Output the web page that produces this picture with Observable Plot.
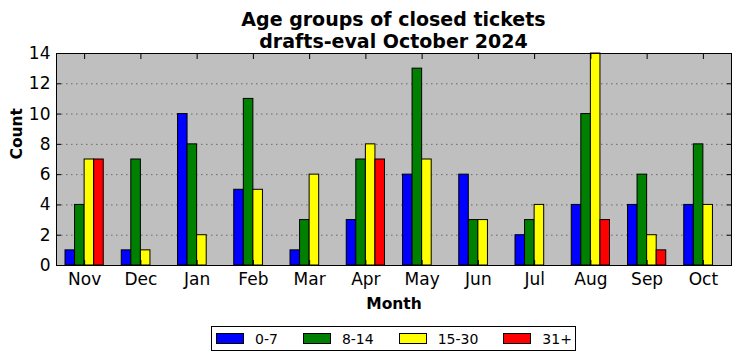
<!DOCTYPE html>
<html>
<head>
<meta charset="utf-8">
<script src="https://cdn.jsdelivr.net/npm/d3@7"></script>
<script src="https://cdn.jsdelivr.net/npm/@observablehq/plot@0.6"></script>
<style>
  body { margin: 0; background: #fff; }
  #wrap { position: relative; width: 740px; height: 361px; font-family: "DejaVu Sans", sans-serif; }
  #title { position: absolute; left: 56px; top: 8px; width: 675px; text-align: center; font-weight: bold; font-size: 19px; line-height: 22px; color: #000; }
  #legend { position: absolute; left: 211px; top: 326px; width: 363px; height: 23px; border: 1px solid #000; background: #fff; display: flex; align-items: center; font-size: 14px; white-space: nowrap; }
  .item { display: flex; align-items: center; flex-shrink: 0; margin-left: 4px; margin-right: 21px; }
  .item:last-child { margin-right: 0; }
  .sw { width: 26px; height: 9px; border: 1px solid #000; margin-right: 11px; flex-shrink: 0; }
  #chart svg { display: block; }
</style>
</head>
<body>
<div id="wrap">
  <div id="chart"></div>
  <div id="title">Age groups of closed tickets<br>drafts-eval October 2024</div>
  <div id="legend"></div>
</div>
<script>
const months = ["Nov","Dec","Jan","Feb","Mar","Apr","May","Jun","Jul","Aug","Sep","Oct"];
const series = ["0-7","8-14","15-30","31+"];
const colors = ["#0000ff","#008000","#ffff00","#ff0000"];
const v0_7   = [1,1,10,5,1,3,6,6,2,4,4,4];
const v8_14  = [4,7,8,11,3,7,13,3,3,10,6,8];
const v15_30 = [7,1,2,5,6,8,7,3,4,14,2,4];
const v31    = [7,0,0,0,0,7,0,0,0,3,1,0];
const yTicks = [0,2,4,6,8,10,12,14];

const seriesValues = [v0_7, v8_14, v15_30, v31];
const rows = [];
months.forEach((m, i) => {
  series.forEach((s, j) => {
    rows.push({month: m, i, series: s, j, value: seriesValues[j][i]});
  });
});

const barW = 0.17;
const monthIdx = d3.range(months.length);

const chart = Plot.plot({
  width: 740,
  height: 361,
  marginLeft: 56,
  marginRight: 9,
  marginTop: 53,
  marginBottom: 96,
  style: {fontFamily: "DejaVu Sans, sans-serif", fontSize: "17px", color: "#000", background: "transparent"},
  x: {type: "linear", domain: [-0.5, 11.5]},
  y: {domain: [0, 14]},
  color: {domain: series, range: colors},
  marks: [
    Plot.frame({fill: "#bfbfbf"}),
    Plot.gridY({ticks: [2,4,6,8,10,12], stroke: "#000", strokeOpacity: 0.45, strokeDasharray: "1.5,3.5"}),
    Plot.rectY(rows, {
      x1: d => d.i + (d.j - 2) * barW,
      x2: d => d.i + (d.j - 1) * barW,
      y1: 0,
      y2: "value",
      fill: "series",
      stroke: "#000",
      strokeWidth: 1
    }),
    Plot.frame({stroke: "#000", strokeWidth: 1}),
    // inward ticks
    Plot.axisX({anchor: "bottom", ticks: monthIdx, tickSize: -5, tickFormat: () => "", label: null}),
    Plot.axisX({anchor: "top", ticks: monthIdx, tickSize: -5, tickFormat: () => "", label: null}),
    Plot.axisY({anchor: "left", ticks: yTicks, tickSize: -5, tickFormat: () => "", label: null}),
    Plot.axisY({anchor: "right", ticks: yTicks, tickSize: -5, tickFormat: () => "", label: null}),
    // labels
    Plot.axisX({anchor: "bottom", ticks: monthIdx, tickSize: 0, tickPadding: 7, tickFormat: i => months[i], label: null, fontSize: 17}),
    Plot.axisY({anchor: "left", ticks: yTicks, tickSize: 0, tickPadding: 6, tickFormat: d => String(d), label: null, fontSize: 17}),
    Plot.text(["Month"], {frameAnchor: "bottom", dy: 43, text: d => d, fontWeight: "bold", fontSize: 15.5}),
    Plot.text(["Count"], {frameAnchor: "left", dx: -39, rotate: -90, text: d => d, fontWeight: "bold", fontSize: 15.5})
  ]
});
document.getElementById("chart").appendChild(chart);

const legend = document.getElementById("legend");
series.forEach((s, j) => {
  const it = document.createElement("div");
  it.className = "item";
  const sw = document.createElement("div");
  sw.className = "sw";
  sw.style.background = colors[j];
  const t = document.createElement("span");
  t.textContent = s;
  it.appendChild(sw);
  it.appendChild(t);
  legend.appendChild(it);
});
</script>
</body>
</html>
